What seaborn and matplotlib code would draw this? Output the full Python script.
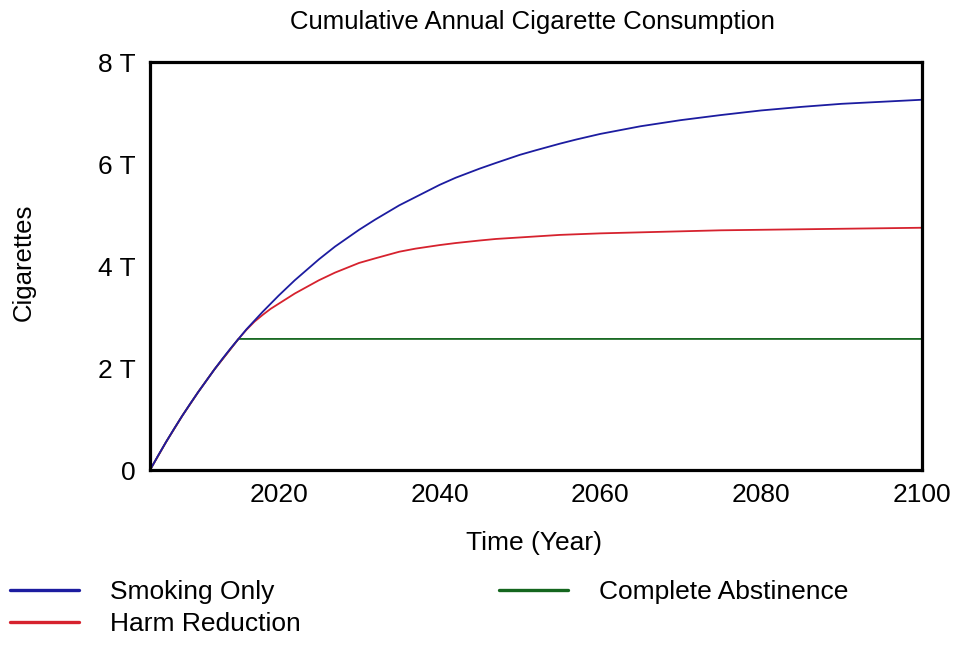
import matplotlib
matplotlib.use("Agg")
import matplotlib.pyplot as plt
from matplotlib.ticker import FuncFormatter
import pandas as pd
import seaborn as sns

# values (trillions of cigarettes)
years_smoking = [2004, 2005, 2006, 2007, 2008, 2009, 2010, 2011, 2012, 2013, 2014,
                 2015, 2016, 2017, 2018, 2019, 2020, 2022, 2025, 2027, 2030, 2032,
                 2035, 2037, 2040, 2042, 2045, 2047, 2050, 2052, 2055, 2057, 2060,
                 2065, 2070, 2075, 2080, 2085, 2090, 2095, 2100]
smoking_only = [0.0, 0.28, 0.55, 0.81, 1.06, 1.30, 1.53, 1.75, 1.97, 2.18, 2.38,
                2.57, 2.76, 2.93, 3.10, 3.26, 3.42, 3.72, 4.13, 4.38, 4.71, 4.91,
                5.19, 5.35, 5.59, 5.73, 5.91, 6.02, 6.18, 6.27, 6.40, 6.48, 6.59,
                6.74, 6.86, 6.96, 7.05, 7.12, 7.18, 7.22, 7.26]

years_harm = [2004, 2006, 2008, 2010, 2012, 2015, 2016, 2017, 2018, 2019, 2020,
              2022, 2025, 2027, 2030, 2032, 2035, 2037, 2040, 2042, 2045, 2047,
              2050, 2055, 2060, 2065, 2070, 2075, 2080, 2085, 2090, 2095, 2100]
harm_reduction = [0.0, 0.55, 1.06, 1.53, 1.97, 2.57, 2.75, 2.91, 3.04, 3.16, 3.26,
                  3.46, 3.72, 3.87, 4.06, 4.15, 4.28, 4.34, 4.41, 4.45, 4.50, 4.53,
                  4.56, 4.61, 4.64, 4.66, 4.68, 4.70, 4.71, 4.72, 4.73, 4.74, 4.75]

years_abst = [2004, 2006, 2008, 2010, 2012, 2015, 2100]
abstinence = [0.0, 0.55, 1.06, 1.53, 1.97, 2.57, 2.57]

series_names = ["Smoking Only", "Harm Reduction", "Complete Abstinence"]
colors = {"Smoking Only": "#1c1ca0",
          "Harm Reduction": "#d6222e",
          "Complete Abstinence": "#14661e"}
y_ticks = [0, 2, 4, 6, 8]
x_ticks = [2020, 2040, 2060, 2080, 2100]

df = pd.concat([
    pd.DataFrame({"Year": years_abst, "Cigarettes": abstinence, "Scenario": "Complete Abstinence"}),
    pd.DataFrame({"Year": years_harm, "Cigarettes": harm_reduction, "Scenario": "Harm Reduction"}),
    pd.DataFrame({"Year": years_smoking, "Cigarettes": smoking_only, "Scenario": "Smoking Only"}),
])

sns.set_style("white")
plt.rcParams["font.family"] = ["Liberation Sans", "DejaVu Sans"]
plt.rcParams["text.color"] = "black"

fig = plt.figure(figsize=(9.64, 6.53), dpi=100)
ax = fig.add_axes([150 / 964, 1 - 470 / 653, 772 / 964, 408 / 653])

sns.lineplot(
    data=df, x="Year", y="Cigarettes", hue="Scenario",
    hue_order=["Complete Abstinence", "Harm Reduction", "Smoking Only"],
    palette=colors, linewidth=1.3, ax=ax, legend=True, estimator=None,
)

ax.set_xlim(2004, 2100)
ax.set_ylim(0, 8)
ax.set_xticks(x_ticks)
ax.set_yticks(y_ticks)
ax.yaxis.set_major_formatter(FuncFormatter(lambda v, p: "0" if v == 0 else f"{int(v)} T"))
ax.tick_params(axis="both", length=0, labelsize=19, colors="black")
ax.tick_params(axis="y", pad=10)
ax.tick_params(axis="x", pad=9)
ax.set_xlabel("")
ax.set_ylabel("")
for sp in ax.spines.values():
    sp.set_color("black")
    sp.set_linewidth(2.3)

# titles and axis labels
fig.text(532 / 964, 1 - 22 / 653, "Cumulative Annual Cigarette Consumption",
         ha="center", va="center", fontsize=18.5, color="black")
fig.text(534 / 964, 1 - 543 / 653, "Time (Year)", ha="center", va="center",
         fontsize=19, color="black")
fig.text(24 / 964, 1 - 262 / 653, "Cigarettes", ha="center", va="center",
         rotation=90, fontsize=18.5, color="black")

# legend below the plot
handles, labels = ax.get_legend_handles_labels()
ax.get_legend().remove()
lookup = dict(zip(labels, handles))
leg = fig.legend(
    [lookup[n] for n in series_names], series_names,
    loc="upper left", bbox_to_anchor=(10 / 964, 1 - 580 / 653),
    ncol=2, frameon=False, fontsize=19, borderpad=0, borderaxespad=0,
    handlelength=2.6, handletextpad=1.2, columnspacing=7.5, labelspacing=0.3,
)
for h in leg.legend_handles:
    h.set_linewidth(2.4)
for t in leg.get_texts():
    t.set_color("black")

fig.savefig("out.png", dpi=100)
